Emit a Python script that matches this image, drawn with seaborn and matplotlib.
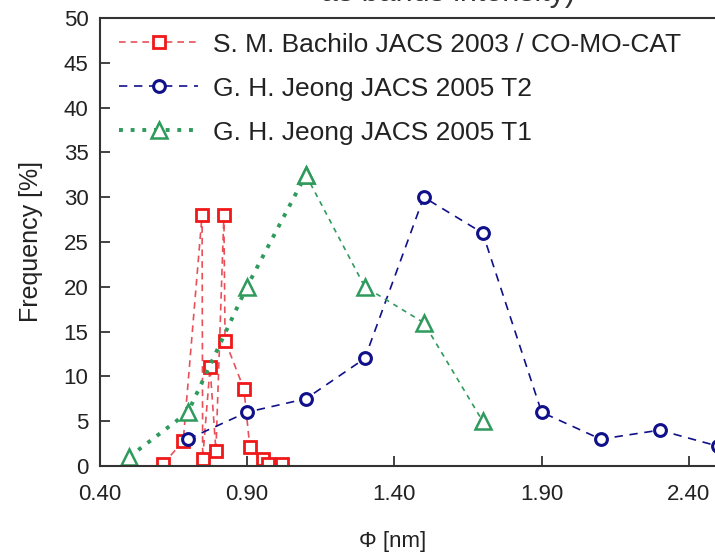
import matplotlib
matplotlib.use("Agg")
import matplotlib.pyplot as plt
import seaborn as sns
import pandas as pd

# Diameter distributions (diameter in nm, frequency in %)
bachilo_d = [0.616, 0.684, 0.748, 0.750, 0.775, 0.795, 0.822, 0.826, 0.89, 0.91, 0.954, 0.97, 1.02]
bachilo_f = [0.2, 2.8, 28.0, 0.8, 11.0, 1.7, 28.0, 14.0, 8.6, 2.1, 0.8, 0.2, 0.2]

jeong_t2_d = [0.7, 0.9, 1.1, 1.3, 1.5, 1.7, 1.9, 2.1, 2.3, 2.5]
jeong_t2_f = [3.0, 6.0, 7.5, 12.0, 30.0, 26.0, 6.0, 3.0, 4.0, 2.2]

jeong_t1_d = [0.5, 0.7, 0.9, 1.1, 1.3, 1.5, 1.7]
jeong_t1_f = [1.0, 6.0, 20.0, 32.5, 20.0, 16.0, 5.0]

labels = ["S. M. Bachilo JACS 2003 / CO-MO-CAT",
          "G. H. Jeong JACS 2005 T2",
          "G. H. Jeong JACS 2005 T1"]
x_ticks = [0.40, 0.90, 1.40, 1.90, 2.40]
y_ticks = list(range(0, 55, 5))

sns.set_theme(style="ticks")
plt.rcParams["font.family"] = ["Liberation Sans", "DejaVu Sans"]

df_b = pd.DataFrame({"d": bachilo_d, "f": bachilo_f})
df_t2 = pd.DataFrame({"d": jeong_t2_d, "f": jeong_t2_f})
df_t1 = pd.DataFrame({"d": jeong_t1_d, "f": jeong_t1_f})

fig = plt.figure(figsize=(7.15, 5.52), dpi=100)
# axes run past the right edge of the figure
x_unit = 294.75  # px per nm
ax_w_px = (2.9 - 0.4) * x_unit
ax = fig.add_axes([99.5 / 715, 86 / 552, ax_w_px / 715, 448 / 552])

red = "#F01818"
red_line = "#E8505A"
navy = "#10108A"
green = "#2E9A5C"

sns.lineplot(data=df_b, x="d", y="f", ax=ax, sort=False, color=red_line,
             linestyle=(0, (4, 3)), linewidth=1.2, marker="s", markersize=8.5,
             markerfacecolor="white", markeredgecolor=red, markeredgewidth=2.0,
             label=labels[0])
sns.lineplot(data=df_t2, x="d", y="f", ax=ax, sort=False, color=navy,
             linestyle=(0, (5, 4)), linewidth=1.2, marker="o", markersize=8.5,
             markerfacecolor="white", markeredgecolor=navy, markeredgewidth=2.2,
             label=labels[1])
# rising flank drawn with heavy dots, falling flank with fine dashes
sns.lineplot(data=df_t1.iloc[:4], x="d", y="f", ax=ax, sort=False, color=green,
             linestyle=(0, (1, 2)), linewidth=2.8, marker="^", markersize=11,
             markerfacecolor="white", markeredgecolor=green, markeredgewidth=1.8,
             label=labels[2])
sns.lineplot(data=df_t1.iloc[3:], x="d", y="f", ax=ax, sort=False, color=green,
             linestyle=(0, (3, 3)), linewidth=1.2, marker="^", markersize=11,
             markerfacecolor="white", markeredgecolor=green, markeredgewidth=1.8,
             legend=False)

ax.set_xlim(0.4, 2.9)
ax.set_ylim(0, 50)
ax.set_xticks(x_ticks)
ax.set_xticklabels([f"{v:.2f}" for v in x_ticks])
ax.set_yticks(y_ticks)
ax.tick_params(direction="in", length=7, width=1.2, labelsize=16, colors="#222222")
ax.tick_params(axis="x", pad=13)
ax.tick_params(axis="y", pad=8)
for s in ax.spines.values():
    s.set_color("#333333")
    s.set_linewidth(1.5)

ax.set_xlabel("Φ [nm]", fontsize=16, color="#222222")
ax.set_ylabel("Frequency [%]", fontsize=18, color="#222222")
ax.xaxis.set_label_coords((393 - 99.5) / ax_w_px, -65 / 448)
ax.yaxis.set_label_coords((43 - 99.5) / ax_w_px, 0.5)

handles, lbls = ax.get_legend_handles_labels()
leg = ax.legend(handles[:3], lbls[:3], loc="upper left", frameon=False,
                fontsize=19, handlelength=3.0, handletextpad=0.55,
                labelspacing=0.76, borderaxespad=0.15,
                bbox_to_anchor=(5 / ax_w_px, 1.0))
for t in leg.get_texts():
    t.set_color("#222222")

# heading of the page above the chart
fig.text(448 / 715, 1 - 0.5 / 552, "as bands intensity)", fontsize=22,
         ha="center", va="baseline", color="#333333")

fig.savefig("out.png", dpi=100)
